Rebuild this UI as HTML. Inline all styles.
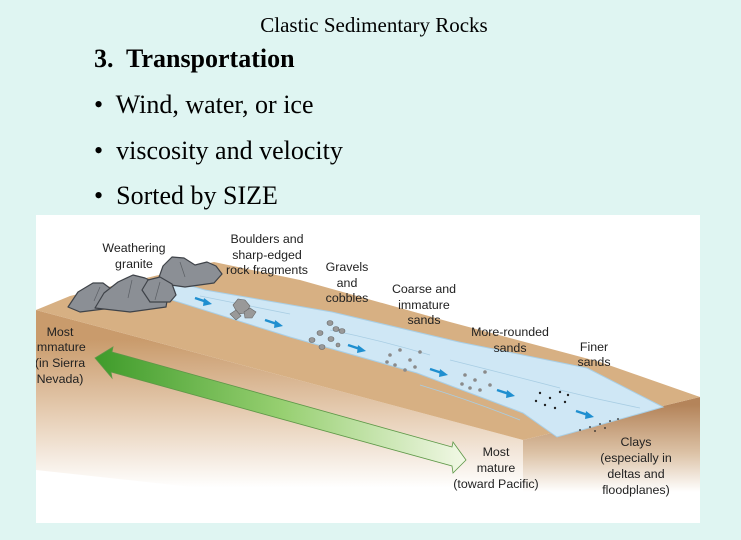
<!DOCTYPE html>
<html><head><meta charset="utf-8"><style>
body{margin:0;width:741px;height:540px;background:#dff5f2;overflow:hidden;position:relative;font-family:"Liberation Serif",serif}
.t{position:absolute;color:#000}
</style></head><body>
<div class="t" style="left:0;width:748px;top:13px;text-align:center;font-size:21px">Clastic Sedimentary Rocks</div>
<div class="t" style="left:94px;top:44px;font-size:26px;font-weight:bold">3.&nbsp; Transportation</div>
<div class="t" style="left:94px;top:90px;font-size:26px">•&nbsp; Wind, water, or ice</div>
<div class="t" style="left:94px;top:136px;font-size:26px">•&nbsp; viscosity and velocity</div>
<div class="t" style="left:94px;top:181px;font-size:26px">•&nbsp; Sorted by SIZE</div>
<svg style="position:absolute;left:36px;top:215px" width="664" height="308" viewBox="36 215 664 308" font-family="Liberation Sans, sans-serif" font-size="12.4" fill="#222">
<defs>
<linearGradient id="g" x1="0" y1="0" x2="1" y2="0"><stop offset="0" stop-color="#3e9b2a"/><stop offset="0.5" stop-color="#96cf70"/><stop offset="1" stop-color="#f2f8e6"/></linearGradient>
<linearGradient id="ff" gradientUnits="userSpaceOnUse" x1="0" y1="340" x2="0" y2="488"><stop offset="0" stop-color="#c99b6c"/><stop offset="0.5" stop-color="#e6cdb3"/><stop offset="1" stop-color="#ffffff"/></linearGradient>
<linearGradient id="rf" gradientUnits="userSpaceOnUse" x1="0" y1="405" x2="0" y2="492"><stop offset="0" stop-color="#b4845a"/><stop offset="0.55" stop-color="#dcc2a6"/><stop offset="1" stop-color="#ffffff"/></linearGradient>
</defs>
<rect x="36" y="215" width="664" height="308" fill="#fff"/>
<polygon points="36,310 523,440 523,523 36,470" fill="url(#ff)"/>
<polygon points="523,440 700,397 700,500 523,523" fill="url(#rf)"/>
<polygon points="36,310 70,296 214,262 300,280 450,322 600,362 700,397 523,440" fill="#d7b083"/>
<polygon points="163,278 205,290 332,312 459,342 587,368 663,407 557,437 523,413 417,373 290,337 172,300" fill="#cfe7f5" stroke="#a9cfe6"/>
<g stroke="#a8cde3" stroke-width="0.8" fill="none">
<path d="M200 296 q40 8 90 18"/><path d="M330 330 q50 10 100 25"/><path d="M450 360 q60 15 110 28"/><path d="M560 390 q40 10 80 18"/><path d="M420 385 q50 15 100 35"/>
</g>
<g fill="#1f8fd0" stroke="#1f8fd0" stroke-width="2.5">
<line x1="195" y1="298" x2="207" y2="302"/><polygon points="212,304 204,298 203,306" stroke-width="0"/>
<line x1="265" y1="320" x2="277" y2="324"/><polygon points="283,326 275,320 274,328" stroke-width="0"/>
<line x1="348" y1="345" x2="360" y2="349"/><polygon points="366,351 358,345 357,353" stroke-width="0"/>
<line x1="430" y1="369" x2="442" y2="373"/><polygon points="448,375 440,369 439,377" stroke-width="0"/>
<line x1="497" y1="390" x2="509" y2="394"/><polygon points="515,396 507,390 506,398" stroke-width="0"/>
<line x1="576" y1="411" x2="588" y2="415"/><polygon points="594,417 586,411 585,419" stroke-width="0"/>
</g>
<g fill="#999" stroke="#666" stroke-width="0.6"><polygon points="233,305 238,299 245,300 250,306 246,313 238,314"/><polygon points="244,312 250,308 256,312 252,318 245,318"/><polygon points="230,314 236,310 241,316 236,320"/>
<ellipse cx="330" cy="323" rx="3" ry="2.5"/><ellipse cx="336" cy="329" rx="3" ry="2.5"/><ellipse cx="320" cy="333" rx="3" ry="2.5"/><ellipse cx="331" cy="339" rx="3" ry="2.5"/><ellipse cx="342" cy="331" rx="3" ry="2.5"/><ellipse cx="312" cy="340" rx="3" ry="2.5"/><ellipse cx="322" cy="347" rx="3" ry="2.5"/><ellipse cx="338" cy="345" rx="2" ry="2"/>
</g>
<g fill="#8a8a8a"><circle cx="390" cy="355" r="1.8"/><circle cx="400" cy="350" r="1.8"/><circle cx="410" cy="360" r="1.8"/><circle cx="395" cy="365" r="1.8"/><circle cx="420" cy="352" r="1.8"/><circle cx="405" cy="370" r="1.8"/><circle cx="415" cy="367" r="1.8"/><circle cx="387" cy="362" r="1.8"/>
<circle cx="465" cy="375" r="1.8"/><circle cx="475" cy="380" r="1.8"/><circle cx="485" cy="372" r="1.8"/><circle cx="470" cy="388" r="1.8"/><circle cx="490" cy="385" r="1.8"/><circle cx="480" cy="390" r="1.8"/><circle cx="462" cy="384" r="1.8"/></g>
<g fill="#222"><circle cx="540" cy="393" r="1.2"/><circle cx="550" cy="398" r="1.2"/><circle cx="560" cy="392" r="1.2"/><circle cx="545" cy="405" r="1.2"/><circle cx="565" cy="402" r="1.2"/><circle cx="555" cy="408" r="1.2"/><circle cx="536" cy="401" r="1.2"/><circle cx="568" cy="395" r="1.2"/>
<circle cx="580" cy="430" r="0.9"/><circle cx="590" cy="427" r="0.9"/><circle cx="600" cy="424" r="0.9"/><circle cx="610" cy="421" r="0.9"/><circle cx="595" cy="431" r="0.9"/><circle cx="618" cy="419" r="0.9"/><circle cx="605" cy="428" r="0.9"/></g>
<g fill="#8b8f95" stroke="#3f4349" stroke-width="1.2" stroke-linejoin="round">
<polygon points="157,283 163,266 172,257 184,258 195,265 207,262 216,266 222,274 214,283 185,287"/>
<polygon points="68,307 78,292 93,283 103,283 115,292 112,308 80,312"/>
<polygon points="95,308 104,293 118,282 133,275 145,278 160,285 168,295 166,307 130,312"/>
<polygon points="150,302 142,290 148,280 160,277 172,284 176,295 170,302"/>
</g>
<g stroke="#5b5f65" stroke-width="0.7" fill="none"><path d="M180 262 l5 15"/><path d="M132 280 l-4 18"/><path d="M100 287 l-6 14"/><path d="M160 282 l-5 18"/></g>
<polygon points="95,358 113,347 112,352 452,447 453,442 466,460 453,473 452,466 111,372 112,378" fill="url(#g)" stroke="#5e9848" stroke-width="0.8"/>
<g text-anchor="middle">
<text x="134" y="252">Weathering</text><text x="134" y="268">granite</text>
<text x="267" y="243">Boulders and</text><text x="267" y="259">sharp-edged</text><text x="267" y="274">rock fragments</text>
<text x="347" y="271">Gravels</text><text x="347" y="287">and</text><text x="347" y="302">cobbles</text>
<text x="424" y="293">Coarse and</text><text x="424" y="309">immature</text><text x="424" y="324">sands</text>
<text x="510" y="336">More-rounded</text><text x="510" y="352">sands</text>
<text x="594" y="351">Finer</text><text x="594" y="366">sands</text>
<text x="636" y="446">Clays</text><text x="636" y="462">(especially in</text><text x="636" y="478">deltas and</text><text x="636" y="494">floodplanes)</text>
<text x="496" y="456">Most</text><text x="496" y="472">mature</text><text x="496" y="488">(toward Pacific)</text>
<text x="60" y="336">Most</text><text x="60" y="351">immature</text><text x="60" y="367">(in Sierra</text><text x="60" y="383">Nevada)</text>
</g>
</svg>
</body></html>
